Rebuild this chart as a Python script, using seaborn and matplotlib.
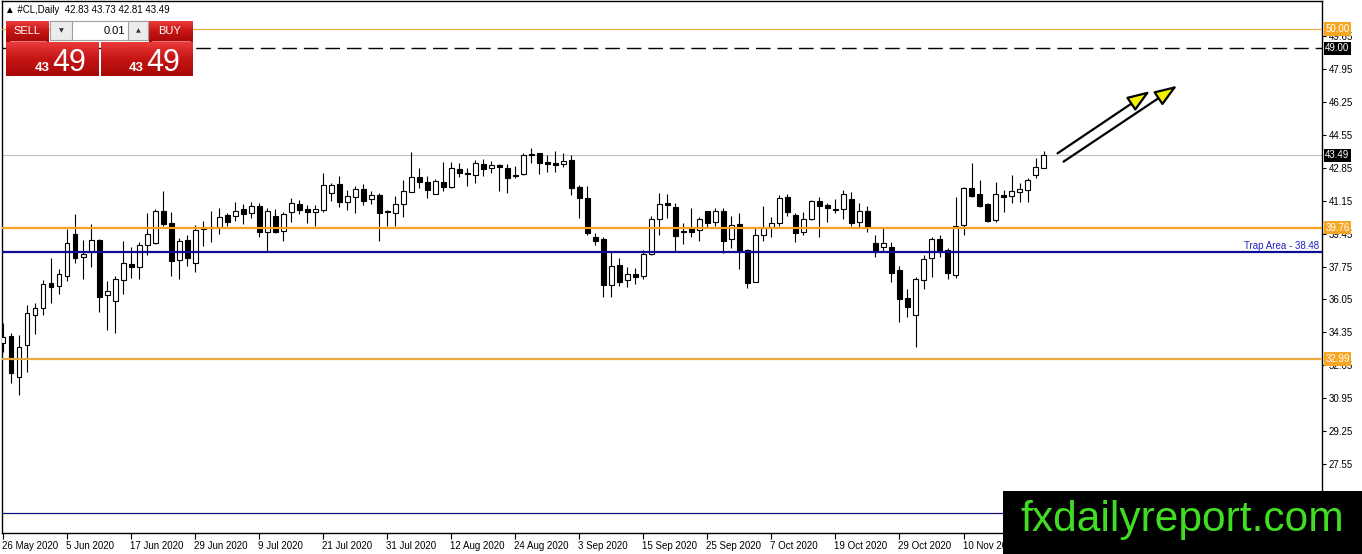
import numpy as np
import pandas as pd
import matplotlib
matplotlib.use("Agg")
import matplotlib.pyplot as plt
import matplotlib.transforms as mtransforms
from matplotlib.patches import Rectangle
from matplotlib.colors import LinearSegmentedColormap
import seaborn as sns

# daily candles, 26 May 2020 .. 18 Nov 2020
opens = [33.79, 34.17, 32.07, 33.70, 35.25, 35.59, 36.88, 36.76, 37.28, 39.41,
         38.23, 38.50, 39.12, 36.28, 35.99, 37.06, 37.86, 37.74, 38.84, 38.98,
         40.62, 39.98, 38.09, 39.12, 37.95, 39.67, 39.72, 39.77, 40.41, 40.36,
         40.70, 40.50, 40.87, 39.55, 40.36, 39.60, 40.55, 40.96, 40.72, 40.58,
         40.67, 41.53, 42.01, 41.10, 41.36, 41.73, 41.22, 41.44, 40.63, 40.50,
         40.96, 41.61, 42.35, 42.10, 41.49, 42.13, 41.87, 42.77, 42.58, 42.47,
         43.04, 42.82, 42.99, 42.82, 42.47, 42.51, 43.56, 43.59, 43.13, 43.08,
         43.02, 43.25, 41.84, 41.27, 39.26, 39.15, 36.78, 37.83, 37.06, 37.35,
         37.28, 38.40, 40.19, 41.01, 40.81, 39.58, 39.72, 39.64, 40.62, 40.07,
         40.62, 39.15, 39.95, 38.60, 36.97, 39.38, 39.81, 40.01, 41.32, 40.41,
         39.55, 40.19, 41.13, 40.93, 40.67, 40.70, 41.22, 40.03, 40.62, 38.95,
         38.74, 38.74, 37.57, 36.11, 35.25, 37.06, 38.17, 39.15, 38.60, 37.31,
         39.89, 41.79, 41.49, 40.96, 40.15, 41.44, 41.39, 41.58, 41.70, 42.47,
         42.83]
highs = [34.85, 34.30, 34.22, 35.77, 35.89, 37.06, 38.21, 37.61, 39.67, 40.46,
         39.12, 39.93, 39.15, 37.00, 37.26, 39.07, 38.74, 39.00, 40.50, 40.70,
         41.65, 40.58, 39.21, 39.38, 39.89, 40.10, 40.62, 40.75, 40.50, 41.10,
         40.98, 41.08, 41.01, 40.75, 40.70, 40.58, 41.30, 41.18, 40.93, 40.93,
         42.56, 42.08, 42.42, 41.70, 41.91, 42.01, 41.67, 41.53, 40.67, 41.39,
         42.22, 43.64, 42.82, 42.42, 42.25, 43.13, 43.13, 43.08, 42.82, 43.25,
         43.28, 43.21, 43.04, 43.04, 42.94, 43.63, 43.85, 43.59, 43.51, 43.71,
         43.59, 43.51, 41.96, 41.91, 39.50, 39.29, 38.52, 38.17, 37.71, 37.66,
         38.60, 40.36, 41.53, 41.49, 41.01, 40.01, 40.75, 40.29, 40.62, 40.79,
         40.75, 40.36, 40.50, 38.64, 39.72, 40.87, 40.29, 41.44, 41.49, 40.50,
         40.55, 41.18, 41.36, 41.05, 41.22, 41.70, 41.61, 41.05, 40.89, 39.38,
         39.76, 39.03, 37.78, 36.57, 37.23, 38.35, 39.26, 39.38, 38.69, 41.36,
         41.87, 43.11, 42.22, 41.01, 42.13, 41.70, 42.47, 42.04, 42.30, 43.33,
         43.73]
lows = [33.36, 31.76, 31.12, 32.33, 34.27, 35.25, 35.89, 36.33, 37.02, 37.95,
        37.09, 37.74, 35.42, 34.48, 34.34, 36.33, 37.18, 37.09, 38.35, 38.91,
        39.84, 37.26, 37.09, 37.78, 37.49, 38.81, 39.03, 39.43, 39.84, 40.12,
        39.93, 40.27, 39.26, 38.52, 39.50, 39.09, 40.07, 40.46, 40.01, 39.84,
        40.58, 41.15, 40.84, 40.67, 40.53, 40.93, 40.98, 39.09, 39.84, 39.84,
        40.32, 41.61, 41.79, 41.27, 41.49, 41.67, 41.79, 42.35, 41.92, 42.08,
        42.42, 42.59, 41.67, 41.53, 42.30, 42.47, 43.11, 42.53, 42.65, 42.65,
        42.87, 41.44, 40.24, 39.38, 38.86, 36.16, 36.16, 36.75, 36.68, 36.83,
        37.09, 38.35, 39.38, 40.24, 38.52, 38.91, 39.26, 39.09, 39.72, 39.84,
        38.43, 38.69, 37.61, 36.63, 36.97, 39.09, 39.29, 39.84, 40.36, 39.03,
        39.38, 40.15, 39.26, 40.07, 40.53, 40.19, 39.84, 39.72, 39.55, 38.26,
        38.52, 36.97, 34.91, 35.16, 33.62, 36.57, 37.23, 38.23, 37.09, 37.14,
        39.38, 41.32, 40.84, 40.07, 40.07, 40.58, 41.05, 41.10, 41.10, 42.30,
        42.81]
closes = [34.13, 32.24, 33.62, 35.34, 35.59, 36.83, 36.71, 37.35, 38.95, 38.17,
          38.38, 39.12, 36.16, 36.49, 37.09, 37.92, 37.71, 38.84, 39.41, 40.63,
          39.95, 38.05, 39.07, 38.17, 39.64, 39.76, 39.77, 40.29, 40.07, 40.62,
          40.46, 40.87, 39.55, 40.62, 39.55, 40.44, 41.01, 40.67, 40.58, 40.72,
          41.96, 41.96, 41.10, 41.39, 41.73, 41.15, 41.44, 40.50, 40.55, 40.96,
          41.65, 42.35, 42.13, 41.70, 42.16, 41.84, 42.82, 42.59, 42.51, 43.08,
          42.77, 42.99, 42.90, 42.30, 42.42, 43.51, 43.49, 43.11, 43.04, 42.97,
          43.20, 41.79, 41.27, 39.46, 39.09, 36.80, 37.78, 36.97, 37.35, 37.23,
          38.40, 40.19, 40.98, 40.94, 39.33, 39.53, 39.55, 40.19, 40.01, 40.62,
          39.09, 39.89, 38.57, 36.92, 39.38, 39.72, 40.01, 41.27, 40.55, 39.46,
          40.19, 41.13, 40.89, 40.75, 40.72, 41.49, 39.98, 40.62, 39.81, 38.52,
          38.95, 37.40, 36.06, 35.68, 37.09, 38.12, 39.15, 38.52, 37.43, 39.85,
          41.79, 41.39, 40.89, 40.12, 41.49, 41.36, 41.65, 41.73, 42.22, 42.87,
          43.49]

date_labels = ["26 May 2020", "5 Jun 2020", "17 Jun 2020", "29 Jun 2020", "9 Jul 2020",
               "21 Jul 2020", "31 Jul 2020", "12 Aug 2020", "24 Aug 2020", "3 Sep 2020",
               "15 Sep 2020", "25 Sep 2020", "7 Oct 2020", "19 Oct 2020", "29 Oct 2020",
               "10 Nov 2020"]
price_ticks = [49.65, 47.95, 46.25, 44.55, 42.85, 41.15, 39.45, 37.75,
               36.05, 34.35, 32.65, 30.95, 29.25, 27.55]

resistance = 50.00
target = 49.00
last_price = 43.49
support_hi = 39.76
trap_area = 38.48
support_lo = 32.99
bottom_line = 25.02

# arrows (bar index, price)
arrow_starts = [(131.75, 43.59), (132.5, 43.16)]
arrow_ends = [(143.3, 46.80), (146.7, 47.08)]

sns.set_theme(style="white")
plt.rcParams["font.family"] = ["Liberation Sans", "DejaVu Sans"]

W, H = 1362, 554
fig = plt.figure(figsize=(W / 100, H / 100), dpi=100)
fig.patch.set_facecolor("white")
ax = fig.add_axes([2 / W, (H - 533) / H, 1320 / W, 532 / H])
ax.set_facecolor("white")

df = pd.DataFrame({"open": opens, "high": highs, "low": lows, "close": closes})
df["bar"] = np.arange(len(df))
up = df["close"] >= df["open"]
body_lo = np.minimum(df["open"], df["close"])
body_h = np.maximum((df["close"] - df["open"]).abs(), 0.05)

ax.vlines(df["bar"], df["low"], df["high"], color="black", lw=0.8, zorder=2)
ax.bar(df["bar"], body_h, bottom=body_lo, width=0.55,
       color=np.where(up, "white", "black"), edgecolor="black", lw=0.8, zorder=3)

# horizontal levels
ax.axhline(resistance, color="#e8b040", lw=0.9, zorder=4)
ax.axhline(target, color="black", lw=1.0, ls=(0, (10.5, 5)), zorder=4)
ax.axhline(last_price, color="#c0c0c0", lw=0.8, zorder=1)
ax.axhline(support_hi, color="#f5a020", lw=1.6, zorder=4)
ax.axhline(trap_area, color="#0c0c96", lw=1.6, zorder=4)
ax.axhline(support_lo, color="#e8ac40", lw=1.6, zorder=4)
ax.axhline(bottom_line, color="#10107a", lw=0.9, zorder=4)

for (x0, y0), (x1, y1) in zip(arrow_starts, arrow_ends):
    ax.annotate("", xy=(x1, y1), xytext=(x0, y0), zorder=6,
                arrowprops=dict(arrowstyle="-|>,head_length=1.15,head_width=0.42",
                                lw=1.6, color="black", fc="#f2f200", ec="black",
                                shrinkA=0, shrinkB=0))

ax.set_xlim(-0.16, 164.8)
ax.set_ylim(24.0, 51.45)

# axes
for s in ["left", "right", "bottom", "top"]:
    ax.spines[s].set_color("black")
    ax.spines[s].set_linewidth(1.0)
ax.yaxis.tick_right()
ax.set_yticks(price_ticks)
ax.set_yticklabels([f"{p:.2f}" for p in price_ticks])
ax.tick_params(axis="y", direction="out", length=3, width=0.8, pad=2,
               labelsize=7, colors="black", right=True, left=False)
ax.set_xticks(np.arange(0, 8 * len(date_labels), 8))
ax.set_xticklabels(date_labels, ha="left")
ax.tick_params(axis="x", direction="out", length=4, width=0.8, pad=1.5,
               labelsize=7, colors="black", bottom=True)
shift = mtransforms.ScaledTranslation(-1 / 100, 0, fig.dpi_scale_trans)
for lab in ax.get_xticklabels():
    lab.set_transform(lab.get_transform() + shift)
ax.grid(False)

# price boxes on the right scale (they sit over the nearby tick labels, as in MT4)
tr = mtransforms.blended_transform_factory(ax.transAxes, ax.transData)
boxes = [(resistance, "#f5a623"), (target, "black"), (last_price, "black"),
         (support_hi, "#f5a623"), (support_lo, "#f5a623")]
for val, col in boxes:
    ax.text(1.0025, val, f"{val:.2f}", transform=tr, ha="left", va="center",
            fontsize=7, color="white", clip_on=False, zorder=10,
            bbox=dict(boxstyle="square,pad=0.18", fc=col, ec="none"))

ax.text(0.998, trap_area + 0.08, f"Trap Area - {trap_area:.2f}", transform=tr,
        ha="right", va="bottom", fontsize=7, color="#2020c0", zorder=6)

# overlay in pixel coordinates: header, trade panel, watermark
ov = fig.add_axes([0, 0, 1, 1], zorder=5)
ov.set_xlim(0, W)
ov.set_ylim(H, 0)
ov.axis("off")
ov.patch.set_alpha(0)

ov.text(5, 10, "\u25b2 #CL,Daily  42.83 43.73 42.81 43.49", fontsize=7,
        va="center", ha="left", color="black")

red = LinearSegmentedColormap.from_list("red", ["#ea3a3a", "#c41414", "#a80808"])
grad = np.linspace(0, 1, 64).reshape(-1, 1)
for x0, y0, w, h in [(6, 21, 43, 21), (149, 21, 44, 21), (6, 42, 93, 34), (101, 42, 92, 34)]:
    ov.imshow(grad, cmap=red, extent=(x0, x0 + w, y0 + h, y0), aspect="auto", zorder=1)
ov.plot([10, 46], [40.5, 40.5], color="#f09090", lw=0.6, zorder=2)
ov.plot([152, 190], [40.5, 40.5], color="#f09090", lw=0.6, zorder=2)
ov.add_patch(Rectangle((50, 21), 98, 19, fc="white", ec="#a0a0a0", lw=0.8, zorder=2))
ov.add_patch(Rectangle((50, 21), 22, 19, fc="#ececec", ec="#a0a0a0", lw=0.8, zorder=3))
ov.add_patch(Rectangle((128, 21), 20, 19, fc="#ececec", ec="#a0a0a0", lw=0.8, zorder=3))
ov.text(61, 31, "\u25bc", fontsize=4.5, ha="center", va="center", color="#333333",
        family="DejaVu Sans", zorder=4)
ov.text(138, 31, "\u25b2", fontsize=4.5, ha="center", va="center", color="#333333",
        family="DejaVu Sans", zorder=4)
ov.text(125, 31, "0.01", fontsize=8, ha="right", va="center", color="black", zorder=4)
ov.text(27, 31, "SELL", fontsize=8, ha="center", va="center", color="white", zorder=4)
ov.text(170, 31, "BUY", fontsize=8, ha="center", va="center", color="white", zorder=4)
for xs, xb in [(35, 52), (129, 146)]:
    ov.text(xs, 71, "43", fontsize=9.5, ha="left", va="baseline", color="white",
            fontweight="bold", zorder=4)
    ov.text(xb, 71, "49", fontsize=22, ha="left", va="baseline", color="white", zorder=4)
ov.set_xlim(0, W)
ov.set_ylim(H, 0)

ov.add_patch(Rectangle((1003, 491), W - 1003, H - 491, fc="black", ec="none", zorder=1))
ov.text(1020, 531, "fxdailyreport.com", fontsize=30.6, color="#40dd22",
        ha="left", va="baseline", zorder=2)

fig.savefig("out.png", dpi=100)
